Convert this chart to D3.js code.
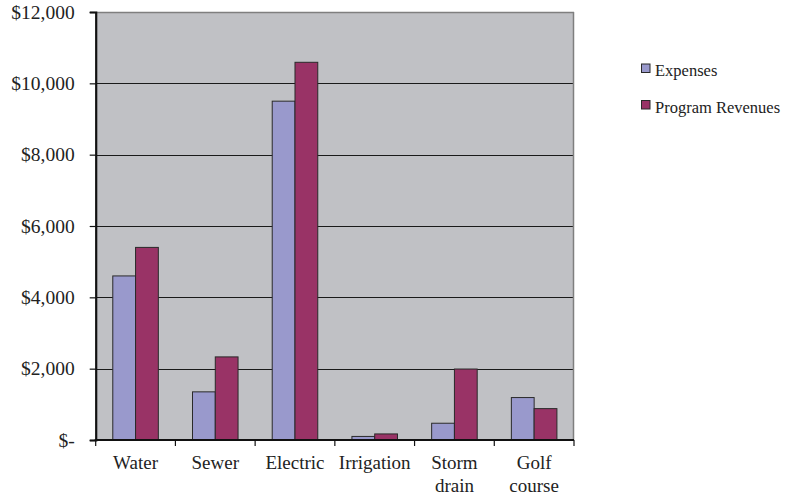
<!DOCTYPE html>
<html><head><meta charset="utf-8">
<script src="https://cdn.jsdelivr.net/npm/d3@7"></script>
<style>html,body{margin:0;padding:0;background:#fff;}svg{display:block;}
svg text{font-family:"Liberation Serif","Times New Roman",Times,serif;}</style>
</head><body>
<svg id="c" width="786" height="499"></svg>
<script>
const categories = [["Water"],["Sewer"],["Electric"],["Irrigation"],["Storm","drain"],["Golf","course"]];
const seriesNames = ["Expenses","Program Revenues"];
const expenses = [4600, 1350, 9500, 100, 470, 1190];
const revenues = [5400, 2330, 10590, 170, 1990, 880];
const yTicks = [0, 2000, 4000, 6000, 8000, 10000, 12000];
const colors = ["#9999cc", "#993366"];

const svg = d3.select("#c");
const L = 95.7, R = 574, T = 12, B = 440;
const font = '"Liberation Serif","Times New Roman",Times,serif';

const x = d3.scaleBand().domain(d3.range(categories.length)).range([L, R]).paddingInner(0).paddingOuter(0);
const y = d3.scaleLinear().domain([0, 12000]).range([B, T]);
const inner = d3.scaleBand().domain([0,1]).range([0, x.bandwidth()]).paddingInner(0).paddingOuter(0.75);

svg.append("rect").attr("x", L).attr("y", T).attr("width", R - L).attr("height", B - T).attr("fill", "#c0c1c5");

svg.append("g").selectAll("line").data(yTicks.filter(d => d > 0 && d < 12000)).join("line")
  .attr("x1", L).attr("x2", R).attr("y1", d => Math.round(y(d)) + 0.5).attr("y2", d => Math.round(y(d)) + 0.5)
  .attr("stroke", "#1a1a1a").attr("stroke-width", 1);
svg.append("line").attr("x1", L).attr("x2", R).attr("y1", T + 0.5).attr("y2", T + 0.5).attr("stroke", "#7f7f7f").attr("stroke-width", 1.5);
svg.append("line").attr("x1", R - 0.5).attr("x2", R - 0.5).attr("y1", T).attr("y2", B).attr("stroke", "#7f7f7f").attr("stroke-width", 1.5);

const data = [expenses, revenues];
data.forEach((vals, si) => {
  svg.append("g").selectAll("rect").data(vals).join("rect")
    .attr("x", (d, i) => x(i) + inner(si))
    .attr("y", d => y(d))
    .attr("width", inner.bandwidth())
    .attr("height", d => B - y(d))
    .attr("fill", colors[si])
    .attr("stroke", "#2a2a2a").attr("stroke-width", 1);
});

const yAxis = d3.axisLeft(y).tickValues(yTicks).tickSize(6).tickPadding(15)
  .tickFormat(d => d === 0 ? "$-" : "$" + d3.format(",")(d));
const yg = svg.append("g").attr("transform", `translate(${L},0)`).call(yAxis)
  .attr("font-family", null).attr("font-size", null);
yg.select(".domain").attr("stroke", "#111").attr("stroke-width", 2.2);
yg.selectAll(".tick line").attr("stroke", "#111").attr("stroke-width", 1.2);
yg.selectAll(".tick text").style("font-family", font).style("font-size", "19.5px").attr("fill", "#222");

const xTickPos = d3.range(categories.length + 1).map(i => L + i * x.bandwidth());
svg.append("g").selectAll("line").data(xTickPos).join("line")
  .attr("x1", d => d).attr("x2", d => d).attr("y1", B).attr("y2", B + 6)
  .attr("stroke", "#111").attr("stroke-width", 1.2);
svg.append("line").attr("x1", L - 1).attr("x2", R).attr("y1", B).attr("y2", B).attr("stroke", "#111").attr("stroke-width", 2.2);

const xl = svg.append("g").selectAll("text").data(categories).join("text")
  .attr("x", (d, i) => x(i) + x.bandwidth() / 2)
  .attr("y", 469)
  .attr("text-anchor", "middle")
  .style("font-family", font).style("font-size", "19px").attr("fill", "#222");
xl.selectAll("tspan").data(d => d).join("tspan")
  .attr("x", function() { return this.parentNode.getAttribute("x"); })
  .attr("dy", (d, i) => i === 0 ? 0 : 22.5)
  .text(d => d);

const lg = svg.append("g");
seriesNames.forEach((n, i) => {
  const yy = 64 + i * 36.5;
  lg.append("rect").attr("x", 641.5).attr("y", yy).attr("width", 8.5).attr("height", 8.5)
    .attr("fill", colors[i]).attr("stroke", "#2a2a2a").attr("stroke-width", 1);
  lg.append("text").attr("x", 655).attr("y", yy + 12).text(n)
    .style("font-family", font).style("font-size", "16.5px").attr("fill", "#222");
});
</script>
</body></html>
